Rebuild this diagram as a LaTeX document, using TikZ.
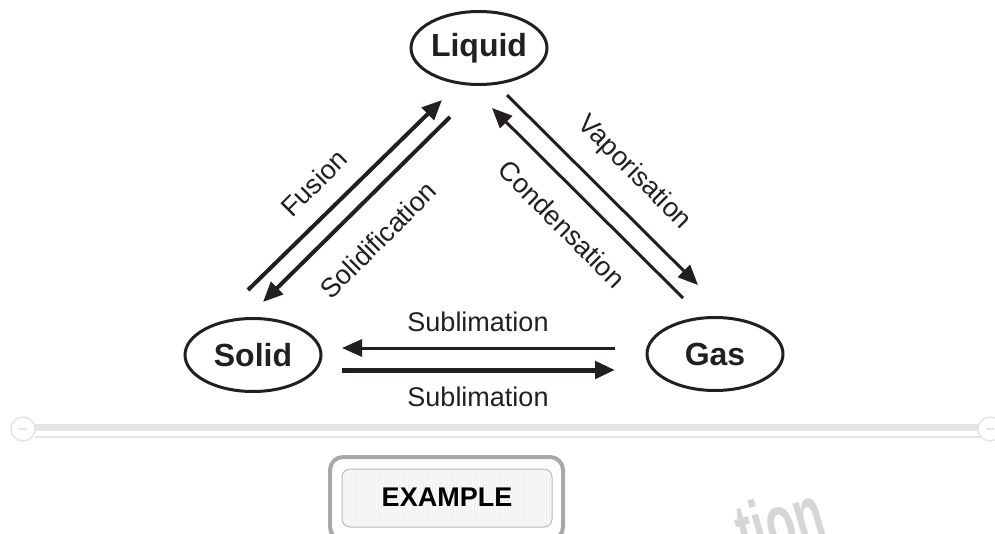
\documentclass[tikz,border=0pt]{standalone}
\usepackage{fontspec}
\setmainfont{Liberation Sans}
\usetikzlibrary{arrows.meta,patterns,shapes.geometric}
\definecolor{ink}{HTML}{231F20}
\definecolor{sep}{HTML}{E4E4E4}
\definecolor{boxgrey}{HTML}{A8A8A8}
\tikzset{
  state/.style={ellipse, draw=ink, line width=3pt, minimum width=136pt, minimum height=73pt, inner sep=0pt, font=\fontsize{32}{36}\selectfont\bfseries, text=ink},
  conn/.style={draw=ink, -{Triangle[length=20pt,width=17pt]}},
  lbl/.style={font=\fontsize{27}{30}\selectfont, text=ink, inner sep=0pt},
}
\begin{document}
\begin{tikzpicture}[x=1pt,y=-1pt]
\useasboundingbox (0,0) rectangle (995,534);
\clip (0,0) rectangle (995,534);
% states
\node[state] (liquid) at (479,48) {Liquid};
\node[state] (solid) at (253,355) {Solid};
\node[state] (gas) at (715,354) {Gas};
% end points
\coordinate (fusA) at (248,290);
\coordinate (fusB) at (442,100);
\coordinate (solA) at (450,117);
\coordinate (solB) at (263,302);
\coordinate (conA) at (683,298);
\coordinate (conB) at (492,108);
\coordinate (vapA) at (507,95);
\coordinate (vapB) at (698,285);
\coordinate (subTA) at (615,348);
\coordinate (subTB) at (342,348);
\coordinate (subBA) at (342,370);
\coordinate (subBB) at (615,370);
% connectors
\draw[conn, line width=4pt] (fusA) -- (fusB);
\draw[conn, line width=4pt] (solA) -- (solB);
\draw[conn, line width=3pt] (conA) -- (conB);
\draw[conn, line width=3pt] (vapA) -- (vapB);
\draw[conn, line width=3pt] (subTA) -- (subTB);
\draw[conn, line width=5pt] (subBA) -- (subBB);
% labels
\node[lbl, rotate=45] (lfus) at (314,183) {Fusion};
\node[lbl, rotate=45] (lsol) at (378,240) {Solidification};
\node[lbl, rotate=-45] (lvap) at (634,173) {Vaporisation};
\node[lbl, rotate=-45] (lcon) at (562,224) {Condensation};
\node[lbl] (lsubt) at (478,322) {Sublimation};
\node[lbl] (lsubb) at (478,397) {Sublimation};
% separator
\fill[sep] (35,424) rectangle (980,431);
\draw[sep, line width=1.5pt] (35,437) -- (982,437);
\draw[sep, line width=1.5pt, fill=white] (23,429) circle (12);
\draw[sep, line width=1.5pt] (19,429) -- (27,429);
\draw[sep, line width=1.5pt, fill=white] (990,429) circle (12);
\draw[sep, line width=1.5pt] (986,429) -- (994,429);
% watermark
\node[font=\fontsize{80}{86}\selectfont\bfseries, text=gray!32, rotate=16, xscale=0.6, inner sep=0pt] (wm) at (780,522) {tion};
% example box
\draw[boxgrey, line width=4pt, fill=white, rounded corners=13pt] (330,457) rectangle (563,540);
\draw[boxgrey!80, line width=1pt, fill=gray!6, rounded corners=8pt] (342,469) rectangle (552,527);
\fill[pattern=vertical lines, pattern color=gray!12, rounded corners=8pt] (343,470) rectangle (551,526);
\node[font=\fontsize{27}{30}\selectfont\bfseries, text=black] (ex) at (447,497) {EXAMPLE};
\end{tikzpicture}
\end{document}
